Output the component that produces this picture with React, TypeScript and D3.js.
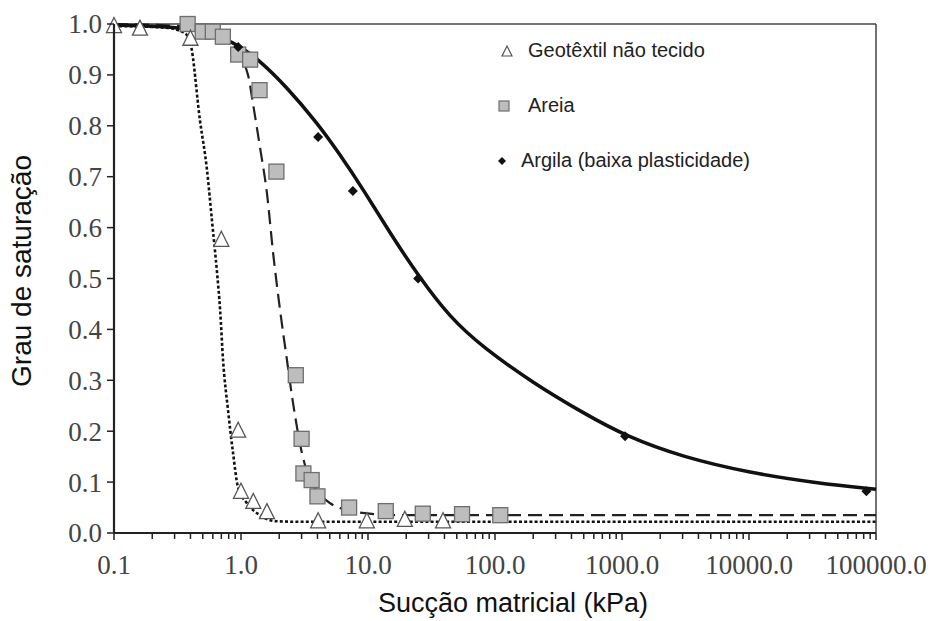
import React from "react";
import * as d3 from "d3";

// eixo x (kPa) e rótulos
const xMajorTicks = [0.1, 1, 10, 100, 1000, 10000, 100000];
const xTickLabels = ["0.1", "1.0", "10.0", "100.0", "1000.0", "10000.0", "100000.0"];
const yTicks = [0, 0.1, 0.2, 0.3, 0.4, 0.5, 0.6, 0.7, 0.8, 0.9, 1.0];

// pontos medidos [sucção kPa, grau de saturação]
const geotextilPts: [number, number][] = [
  [0.1, 0.995], [0.16, 0.99], [0.4, 0.97], [0.7, 0.575], [0.95, 0.2],
  [1.0, 0.08], [1.25, 0.06], [1.6, 0.04], [4.05, 0.022], [9.8, 0.022],
  [19.5, 0.025], [39, 0.022],
];
const areiaPts: [number, number][] = [
  [0.38, 1.0], [0.5, 0.985], [0.6, 0.985], [0.72, 0.975], [0.95, 0.94],
  [1.18, 0.93], [1.4, 0.87], [1.9, 0.71], [2.7, 0.31], [3.0, 0.185],
  [3.1, 0.117], [3.6, 0.104], [4.0, 0.072], [7.1, 0.05], [13.8, 0.043],
  [27, 0.038], [55, 0.037], [110, 0.035],
];
const argilaPts: [number, number][] = [
  [0.95, 0.955], [4.05, 0.778], [7.6, 0.672], [24.8, 0.5], [1057, 0.19], [84000, 0.082],
];

// curvas ajustadas
const geotextilCurve: [number, number][] = [
  [0.1, 0.996], [0.25, 0.993], [0.36, 0.982], [0.4, 0.962], [0.475, 0.811],
  [0.54, 0.713], [0.59, 0.615], [0.648, 0.511], [0.685, 0.438], [0.722, 0.34],
  [0.79, 0.242], [0.866, 0.157], [0.947, 0.09], [1.11, 0.059], [1.41, 0.035],
  [1.92, 0.023], [3, 0.022], [100000, 0.022],
];
const areiaCurve: [number, number][] = [
  [0.1, 1.0], [0.33, 0.996], [0.57, 0.984], [0.82, 0.963], [1.135, 0.9],
  [1.24, 0.845], [1.41, 0.758], [1.6, 0.668], [1.79, 0.55], [2.03, 0.438],
  [2.3, 0.34], [2.57, 0.255], [3.02, 0.157], [3.37, 0.114], [4.04, 0.081],
  [5.0, 0.059], [8.2, 0.041], [17.9, 0.035], [100000, 0.035],
];
const argilaCurve: [number, number][] = [
  [0.1, 0.998], [0.23, 0.996], [0.475, 0.988], [0.75, 0.972], [0.98, 0.955],
  [1.34, 0.933], [2.3, 0.876], [3.96, 0.806], [5.7, 0.752], [9.46, 0.67],
  [14.9, 0.589], [25.6, 0.501], [44, 0.424], [80, 0.365], [199, 0.295],
  [493, 0.236], [1095, 0.189], [3020, 0.149], [10180, 0.118], [34300, 0.098],
  [100000, 0.086],
];

const legendLabels = ["Geotêxtil não tecido", "Areia", "Argila (baixa plasticidade)"];

const W = 933;
const H = 621;
const margin = { left: 114, right: 57, top: 24, bottom: 88 };

const serif = "'Liberation Serif', 'Times New Roman', serif";
const sans = "'Liberation Sans', Arial, sans-serif";

const x = d3.scaleLog().domain([0.1, 100000]).range([margin.left, W - margin.right]);
const y = d3.scaleLinear().domain([0, 1]).range([H - margin.bottom, margin.top]);

const line = d3
  .line<[number, number]>()
  .x((d) => x(d[0]))
  .y((d) => y(d[1]))
  .curve(d3.curveMonotoneX);

// a curva da argila é suavizada (pontos lidos com algum ruído)
const smoothLine = d3
  .line<[number, number]>()
  .x((d) => x(d[0]))
  .y((d) => y(d[1]))
  .curve(d3.curveBasis);

const triangle = (cx: number, cy: number, s: number) =>
  `M${cx},${cy - s * 0.6}L${cx + s / 2},${cy + s * 0.4}L${cx - s / 2},${cy + s * 0.4}Z`;
const diamond = (cx: number, cy: number, s: number) =>
  `M${cx},${cy - s / 2}L${cx + s / 2},${cy}L${cx},${cy + s / 2}L${cx - s / 2},${cy}Z`;

export default function App() {
  const x0 = margin.left;
  const x1 = W - margin.right;
  const yb = H - margin.bottom;
  const yt = margin.top;

  const minorTicks: number[] = [];
  for (let dec = 0.1; dec < 100000; dec *= 10) {
    for (let k = 2; k <= 9; k++) minorTicks.push(dec * k);
  }

  return (
    <svg
      width={W}
      height={H}
      style={{ position: "absolute", left: 0, top: 0, background: "#fff" }}
    >
      {/* moldura */}
      <line x1={x0} x2={x1} y1={yt} y2={yt} stroke="#444" strokeWidth={1.5} />
      <line x1={x1} x2={x1} y1={yt} y2={yb} stroke="#444" strokeWidth={1.5} />

      {/* curvas */}
      <path d={line(geotextilCurve) ?? ""} fill="none" stroke="#111" strokeWidth={2.6} strokeDasharray="3,2.2" />
      <path d={line(areiaCurve) ?? ""} fill="none" stroke="#222" strokeWidth={2.2} strokeDasharray="14,7" />
      <path d={smoothLine(argilaCurve) ?? ""} fill="none" stroke="#111" strokeWidth={3.5} />

      {/* pontos */}
      {areiaPts.map((d, i) => (
        <rect
          key={"a" + i}
          x={x(d[0]) - 7.5}
          y={y(d[1]) - 7.5}
          width={15}
          height={15}
          fill="#bdbdbd"
          stroke="#6e6e6e"
          strokeWidth={1.3}
        />
      ))}
      {geotextilPts.map((d, i) => (
        <path
          key={"g" + i}
          d={triangle(x(d[0]), y(d[1]), 15)}
          fill="#fff"
          stroke="#555"
          strokeWidth={1.3}
        />
      ))}
      {argilaPts.map((d, i) => (
        <path key={"c" + i} d={diamond(x(d[0]), y(d[1]), 10)} fill="#111" />
      ))}

      {/* eixos */}
      <line x1={x0} x2={x1} y1={yb} y2={yb} stroke="#222" strokeWidth={2.2} />
      <line x1={x0} x2={x0} y1={yt} y2={yb} stroke="#222" strokeWidth={2.2} />
      {xMajorTicks.map((t, i) => (
        <g key={"xm" + i}>
          <line x1={x(t)} x2={x(t)} y1={yb} y2={yb + 7} stroke="#222" strokeWidth={1.5} />
          <text
            x={x(t)}
            y={yb + 41}
            textAnchor="middle"
            fontFamily={serif}
            fontSize={27}
            fill="#444"
          >
            {xTickLabels[i]}
          </text>
        </g>
      ))}
      {minorTicks.map((t, i) => (
        <line key={"xn" + i} x1={x(t)} x2={x(t)} y1={yb} y2={yb + 6} stroke="#222" strokeWidth={1.5} />
      ))}
      {yTicks.map((t, i) => (
        <g key={"y" + i}>
          <line x1={x0 - 7} x2={x0} y1={y(t)} y2={y(t)} stroke="#222" strokeWidth={1.5} />
          <text
            x={x0 - 12}
            y={y(t)}
            dy="0.35em"
            textAnchor="end"
            fontFamily={serif}
            fontSize={27}
            fill="#444"
          >
            {t.toFixed(1)}
          </text>
        </g>
      ))}

      {/* títulos */}
      <text
        x={(x0 + x1) / 2 + 18}
        y={H - 9}
        textAnchor="middle"
        fontFamily={sans}
        fontSize={27}
        fill="#111"
      >
        Sucção matricial (kPa)
      </text>
      <text
        transform={`translate(31,271) rotate(-90)`}
        textAnchor="middle"
        fontFamily={sans}
        fontSize={28}
        fill="#111"
      >
        Grau de saturação
      </text>

      {/* legenda */}
      <path d={triangle(507, 52, 10)} fill="#fff" stroke="#555" strokeWidth={1.2} />
      <rect x={499} y={101} width={10} height={10} fill="#bdbdbd" stroke="#6e6e6e" strokeWidth={1.2} />
      <path d={diamond(502, 161, 8)} fill="#111" />
      <text x={528} y={57} fontFamily={sans} fontSize={20} fill="#222">
        {legendLabels[0]}
      </text>
      <text x={528} y={112} fontFamily={sans} fontSize={20} fill="#222">
        {legendLabels[1]}
      </text>
      <text x={521} y={167} fontFamily={sans} fontSize={20} fill="#222">
        {legendLabels[2]}
      </text>
    </svg>
  );
}
